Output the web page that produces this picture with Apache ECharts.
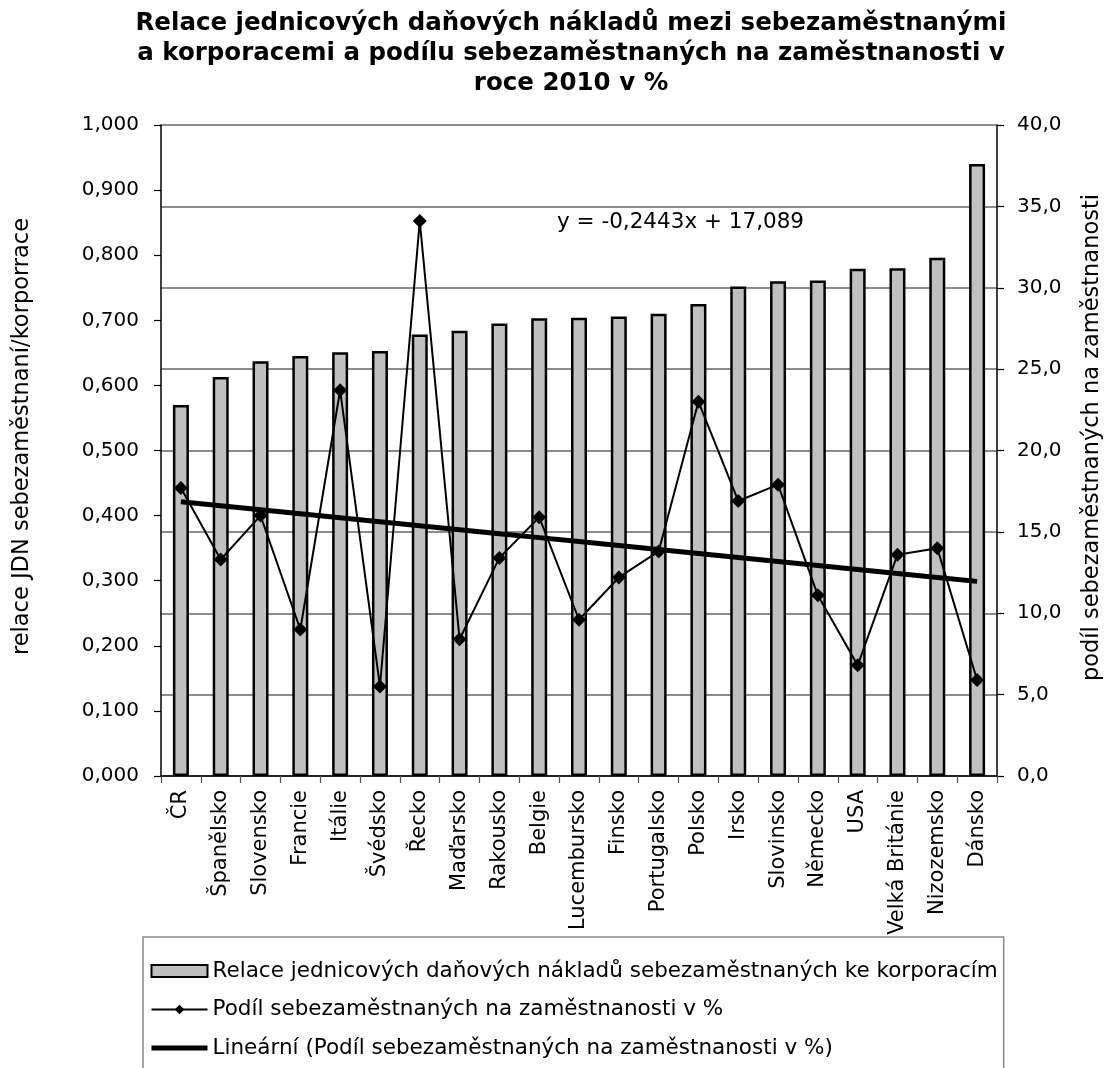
<!DOCTYPE html>
<html lang="cs">
<head>
<meta charset="utf-8">
<title>Relace jednicových daňových nákladů</title>
<script src="https://cdn.jsdelivr.net/npm/echarts@6/dist/echarts.min.js"></script>
<style>
  html, body { margin: 0; padding: 0; background: #fff; }
  #chart { width: 1107px; height: 1068px; }
</style>
</head>
<body>
<div id="chart"></div>
<script>
// Země (kategorie osy x)
const countries = ['ČR', 'Španělsko', 'Slovensko', 'Francie', 'Itálie', 'Švédsko', 'Řecko',
  'Maďarsko', 'Rakousko', 'Belgie', 'Lucembursko', 'Finsko', 'Portugalsko', 'Polsko',
  'Irsko', 'Slovinsko', 'Německo', 'USA', 'Velká Británie', 'Nizozemsko', 'Dánsko'];

// Relace jednicových daňových nákladů sebezaměstnaných ke korporacím (levá osa)
const taxRatio = [0.570, 0.613, 0.637, 0.645, 0.651, 0.653, 0.678, 0.684, 0.695, 0.703,
  0.704, 0.706, 0.710, 0.725, 0.752, 0.760, 0.761, 0.779, 0.780, 0.796, 0.940];

// Podíl sebezaměstnaných na zaměstnanosti v % (pravá osa)
const selfEmployedShare = [17.7, 13.3, 16.0, 9.0, 23.7, 5.5, 34.1, 8.4, 13.4, 15.9,
  9.6, 12.2, 13.8, 23.0, 16.9, 17.9, 11.1, 6.8, 13.6, 14.0, 5.9];

// Lineární trend: y = -0,2443x + 17,089 (x = pořadí země od 1)
const trendSlope = -0.2443;
const trendIntercept = 17.089;
const trendValues = countries.map((_, i) => trendSlope * (i + 1) + trendIntercept);

// Rozsahy a kroky os
const leftTicks = { min: 0, max: 1, interval: 0.1, decimals: 3 };
const rightTicks = { min: 0, max: 40, interval: 5, decimals: 1 };

const FONT = 'DejaVu Sans';
const fmt = (v, d) => v.toFixed(d).replace('.', ',');

const chart = echarts.init(document.getElementById('chart'), null, { renderer: 'canvas' });

const names = {
  bar: 'Relace jednicových daňových nákladů sebezaměstnaných ke korporacím',
  line: 'Podíl sebezaměstnaných na zaměstnanosti v %',
  trend: 'Lineární (Podíl sebezaměstnaných na zaměstnanosti v %)'
};

chart.setOption({
  animation: false,
  backgroundColor: '#ffffff',
  textStyle: { fontFamily: FONT },
  title: {
    text: 'Relace jednicových daňových nákladů mezi sebezaměstnanými\na korporacemi a podílu sebezaměstnaných na zaměstnanosti v\nroce 2010 v %',
    left: 571,
    top: 4,
    textAlign: 'center',
    padding: [5, 0, 5, 0],
    textStyle: {
      fontFamily: FONT,
      fontWeight: 'bold',
      fontSize: 24.5,
      lineHeight: 30,
      color: '#000'
    }
  },
  grid: {
    left: 161, right: 110, top: 125, bottom: 292,
    containLabel: false,
    outerBoundsMode: 'none'
  },
  legend: {
    orient: 'vertical',
    left: 143,
    top: 937,
    height: 200,
    padding: [22, 6, 40, 6],
    itemGap: 14.5,
    itemWidth: 56,
    itemHeight: 12,
    borderColor: '#888888',
    borderWidth: 1.5,
    textStyle: { fontFamily: FONT, fontSize: 21.5, color: '#000', lineHeight: 24 },
    data: [
      { name: names.bar, icon: 'rect' },
      { name: names.line, lineStyle: { width: 2 } },
      { name: names.trend, itemStyle: { opacity: 0 }, lineStyle: { width: 5 } }
    ]
  },
  xAxis: {
    type: 'category',
    data: countries,
    boundaryGap: true,
    axisLine: { lineStyle: { color: '#000', width: 1.5 } },
    axisTick: { show: true, interval: 0, length: 7, lineStyle: { color: '#555', width: 1.2 } },
    axisLabel: {
      interval: 0,
      rotate: 90,
      margin: 14,
      fontFamily: FONT,
      fontSize: 21,
      color: '#000'
    }
  },
  yAxis: [
    {
      type: 'value',
      position: 'left',
      min: leftTicks.min,
      max: leftTicks.max,
      interval: leftTicks.interval,
      name: 'relace JDN sebezaměstnaní/korporrace',
      nameLocation: 'middle',
      nameRotate: 90,
      nameGap: 127,
      nameTextStyle: { fontFamily: FONT, fontSize: 22.5, color: '#000', padding: [0, 0, 0, 28] },
      axisLine: { show: true, lineStyle: { color: '#000', width: 1.5 } },
      axisTick: { show: true, length: 7, lineStyle: { color: '#000', width: 1.2 } },
      axisLabel: {
        margin: 22,
        fontFamily: FONT,
        fontSize: 20,
        color: '#000',
        formatter: v => fmt(v, leftTicks.decimals)
      },
      splitLine: { show: false }
    },
    {
      type: 'value',
      position: 'right',
      min: rightTicks.min,
      max: rightTicks.max,
      interval: rightTicks.interval,
      name: 'podíl sebezaměstnaných na zaměstnanosti',
      nameLocation: 'middle',
      nameRotate: 90,
      nameGap: 84,
      nameTextStyle: { fontFamily: FONT, fontSize: 22.5, color: '#000', padding: [0, 0, 0, 26] },
      axisLine: { show: true, lineStyle: { color: '#000', width: 1.5 } },
      axisTick: { show: true, length: 7, lineStyle: { color: '#000', width: 1.2 } },
      axisLabel: {
        margin: 20,
        fontFamily: FONT,
        fontSize: 20,
        color: '#000',
        formatter: v => fmt(v, rightTicks.decimals)
      },
      splitLine: { show: true, lineStyle: { color: '#8c8c8c', width: 2 } }
    }
  ],
  series: [
    {
      name: names.bar,
      type: 'bar',
      yAxisIndex: 0,
      data: taxRatio,
      barWidth: 16,
      itemStyle: { color: '#c0c0c0', borderColor: '#000', borderWidth: 2.5 },
      z: 2
    },
    {
      name: names.line,
      type: 'line',
      yAxisIndex: 1,
      data: selfEmployedShare,
      symbol: 'diamond',
      symbolSize: 14,
      showAllSymbol: true,
      lineStyle: { color: '#000', width: 2 },
      itemStyle: { color: '#000' },
      z: 4
    },
    {
      name: names.trend,
      type: 'line',
      yAxisIndex: 1,
      data: trendValues,
      symbol: 'none',
      lineStyle: { color: '#000', width: 5 },
      itemStyle: { color: '#000' },
      z: 3
    }
  ],
  graphic: [
    {
      type: 'text',
      left: 557,
      top: 211,
      z: 10,
      style: {
        text: 'y = -0,2443x + 17,089',
        font: '21.5px "DejaVu Sans"',
        fill: '#000'
      }
    }
  ]
});
</script>
</body>
</html>
